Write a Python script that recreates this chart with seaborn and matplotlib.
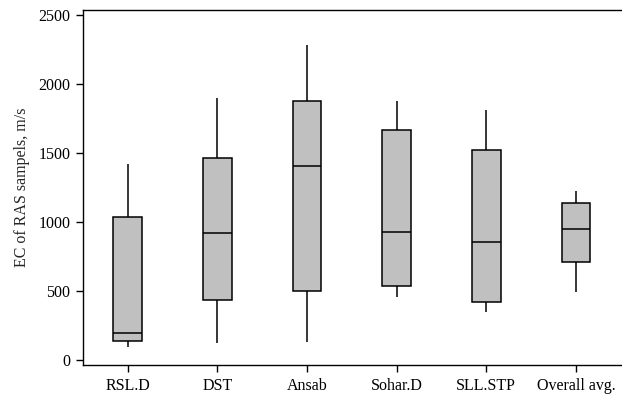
import numpy as np
import pandas as pd
import matplotlib
matplotlib.use("Agg")
import matplotlib.pyplot as plt
import seaborn as sns

categories = ["RSL.D", "DST", "Ansab", "Sohar.D", "SLL.STP", "Overall avg."]
# five-number summaries: min, q1, median, q3, max
mins    = [94, 126, 133, 459, 345, 495]
q1s     = [140, 435, 500, 539, 418, 712]
medians = [196, 918, 1408, 925, 853, 947]
q3s     = [1034, 1466, 1877, 1669, 1524, 1138]
maxs    = [1418, 1896, 2283, 1875, 1809, 1227]

rows = []
for c, a, b, m, d, e in zip(categories, mins, q1s, medians, q3s, maxs):
    for v in (a, b, m, d, e):
        rows.append({"site": c, "EC": v})
df = pd.DataFrame(rows)

sns.set_style("white")
plt.rcParams["font.family"] = ["Liberation Serif", "DejaVu Serif"]

fig = plt.figure(figsize=(6.22, 3.97), dpi=100)
ax = fig.add_axes([0.1334, 0.0806, 0.8646, 0.8942])

sns.boxplot(data=df, x="site", y="EC", order=categories, ax=ax,
            whis=(0, 100), showcaps=False, width=0.32,
            color="#c0c0c0", linecolor="#000000", linewidth=1.1,
            saturation=1)

ax.set_xlim(-0.5, 5.5)
ax.set_ylim(-36, 2536)
ax.set_yticks([0, 500, 1000, 1500, 2000, 2500])
ax.set_xlabel("")
ax.set_ylabel("EC of RAS sampels, m/s", fontsize=11.5, labelpad=6)
ax.tick_params(axis="both", labelsize=11.5, length=5, width=1, direction="out",
               bottom=True, left=True, colors="black", pad=4)
for s in ax.spines.values():
    s.set_color("black")
    s.set_linewidth(1.0)
ax.spines["right"].set_visible(False)

fig.savefig("out.png", dpi=100)
